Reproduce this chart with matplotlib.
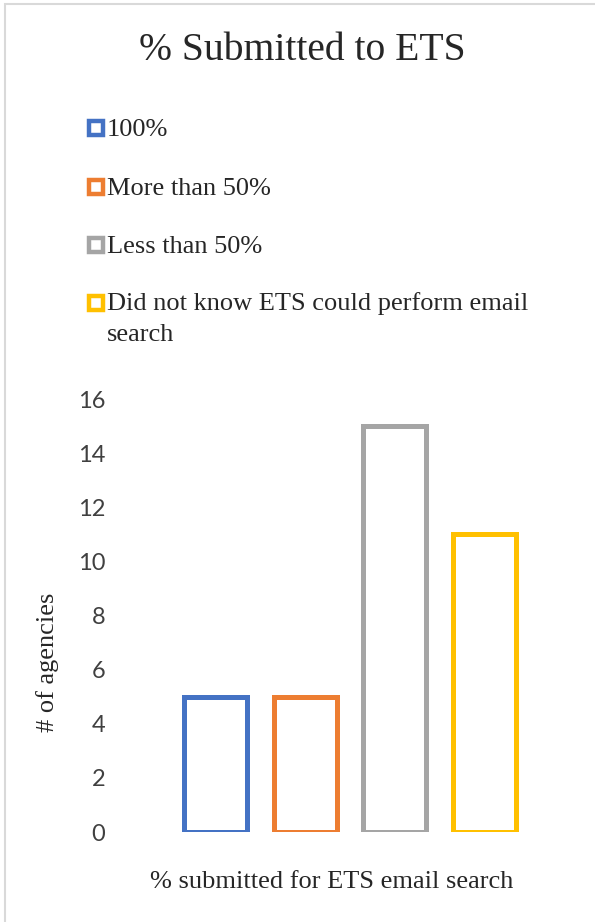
import matplotlib.pyplot as plt
from matplotlib.patches import Rectangle
from matplotlib.lines import Line2D

categories = ['100%', 'More than 50%', 'Less than 50%',
              'Did not know ETS could perform email\nsearch']
values = [5, 5, 15, 11]
colors = ['#4472C4', '#ED7D31', '#A5A5A5', '#FFC000']
yticks = [0, 2, 4, 6, 8, 10, 12, 14, 16]

W, H = 595, 922
fig = plt.figure(figsize=(W / 100, H / 100), dpi=100)

# light gray chart border (right/bottom fall outside the image)
fig.add_artist(Rectangle((5 / W, -0.01), 1.0, (H - 4) / H + 0.01,
                         transform=fig.transFigure, fill=False,
                         edgecolor='#D9D9D9', linewidth=1.5))

serif = 'Liberation Serif'
txt = '#262626'

fig.text(302 / W, 1 - 50 / H, '% Submitted to ETS', ha='center', va='center',
         family=serif, fontsize=28.5, color=txt)

# legend, drawn by hand to match the stacked layout
leg_y = [128, 187, 245, 303]
for lab, c, y in zip(categories, colors, leg_y):
    fig.add_artist(Line2D([95.5 / W], [1 - y / H], marker='s', markersize=9.5,
                          markerfacecolor='white', markeredgecolor=c,
                          markeredgewidth=3.2, transform=fig.transFigure))
    if '\n' in lab:
        fig.text(107 / W, 1 - (y - 11) / H, lab, ha='left', va='top',
                 family=serif, fontsize=19, color=txt, linespacing=1.52)
    else:
        fig.text(107 / W, 1 - (y + 2) / H, lab, ha='left', va='center',
                 family=serif, fontsize=19, color=txt)

ax = fig.add_axes([171 / W, (H - 832) / H, 358 / W, (832 - 399) / H])
x = range(len(values))
ax.bar(x, values, width=0.705, facecolor='white', edgecolor=colors, linewidth=3.6)
ax.set_xlim(-0.5, 3.5)
ax.set_ylim(0, 16)
ax.set_yticks(yticks)
ax.set_xticks([])
for s in ax.spines.values():
    s.set_visible(False)
ax.tick_params(axis='y', length=0, pad=47.5, labelsize=17, labelcolor='#404040')
for t in ax.get_yticklabels():
    t.set_family('Lato')

fig.text(48 / W, 1 - 662 / H, '# of agencies', rotation=90, ha='center', va='center',
         family=serif, fontsize=19, color=txt)
fig.text(332 / W, 1 - 882 / H, '% submitted for ETS email search', ha='center', va='center',
         family=serif, fontsize=19, color=txt)

fig.savefig('out.png', dpi=100)
